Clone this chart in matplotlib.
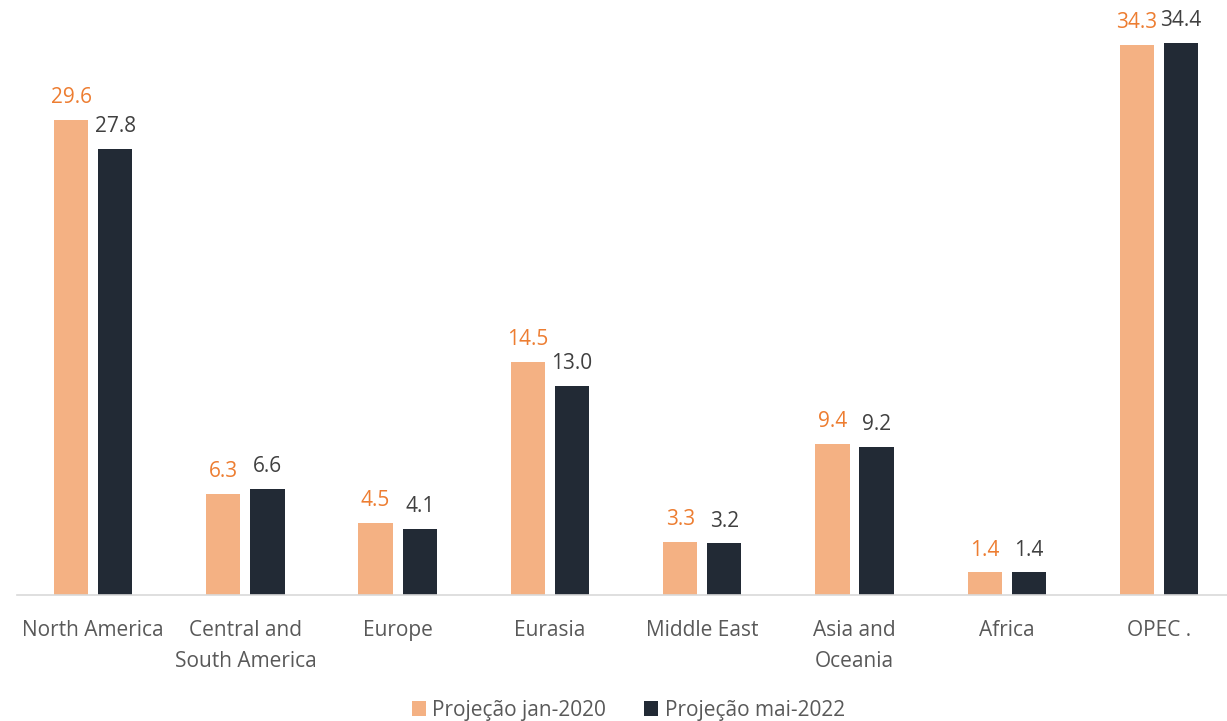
import numpy as np
import matplotlib.pyplot as plt

plt.rcParams['font.family'] = ['Open Sans', 'DejaVu Sans']

regions = ['North America', 'Central and\nSouth America', 'Europe', 'Eurasia',
           'Middle East', 'Asia and\nOceania', 'Africa', 'OPEC .']
proj_2020 = [29.6, 6.3, 4.5, 14.5, 3.3, 9.4, 1.4, 34.3]
proj_2022 = [27.8, 6.6, 4.1, 13.0, 3.2, 9.2, 1.4, 34.4]

c_2020 = '#F4B183'
c_2022 = '#222A35'

fig = plt.figure(figsize=(12.27, 7.21), dpi=100)
ax = fig.add_axes([0.0139, 0.175, 0.9927, 0.801])

x = np.arange(len(regions))
w = 0.225
off = 0.145
b1 = ax.bar(x - off, proj_2020, w, color=c_2020, label='Projeção jan-2020')
b2 = ax.bar(x + off, proj_2022, w, color=c_2022, label='Projeção mai-2022')

for rect, v in zip(b1, proj_2020):
    ax.annotate(f'{v:.1f}', (rect.get_x() + rect.get_width() / 2, v),
                xytext=(0, 8.5), textcoords='offset points', ha='center', va='bottom',
                fontsize=15, color='#ED7D31')
for rect, v in zip(b2, proj_2022):
    ax.annotate(f'{v:.1f}', (rect.get_x() + rect.get_width() / 2, v),
                xytext=(0, 8.5), textcoords='offset points', ha='center', va='bottom',
                fontsize=15, color='#404040')

ax.set_xlim(-0.5, len(regions) - 0.5)
ax.set_ylim(0, 36)
ax.set_xticks(x)
ax.set_xticklabels(regions, fontsize=15, color='#595959', linespacing=1.65)
ax.tick_params(axis='x', length=0, pad=18)
ax.set_yticks([])
for s in ['top', 'right', 'left']:
    ax.spines[s].set_visible(False)
ax.spines['bottom'].set_color('#D9D9D9')
ax.spines['bottom'].set_linewidth(1.2)

fig.legend(loc='lower center', bbox_to_anchor=(0.512, -0.026), ncol=2, frameon=False,
           fontsize=15, labelcolor='#595959', handlelength=0.7, handleheight=0.7,
           handletextpad=0.3, columnspacing=1.8)

fig.savefig('out.png', dpi=100)
